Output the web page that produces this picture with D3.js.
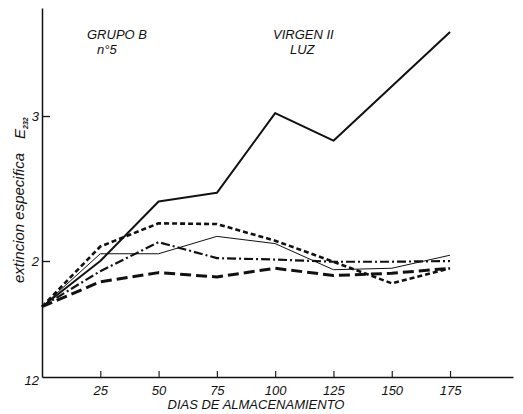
<!DOCTYPE html>
<html>
<head>
<meta charset="utf-8">
<script src="https://cdn.jsdelivr.net/npm/d3@7"></script>
<style>
  body { margin: 0; background: #fff; }
  text { font-family: "Liberation Sans", sans-serif; font-style: italic; fill: #111; }
</style>
</head>
<body>
<div class="chart"></div>
<script>
// days of storage
var dias = [0, 25, 50, 75, 100, 125, 150, 175];

// extincion especifica per series (null = no point read)
var serieGruesa = [1.685, 2.0, 2.41, 2.47, 3.02, 2.83, null, 3.58];
var serieGuiones = [1.685, 2.10, 2.26, 2.255, 2.14, 1.995, 1.846, 1.95];
var serieFina = [1.685, 2.05, 2.05, 2.17, 2.12, 1.94, 1.95, 2.04];
var seriePuntoRaya = [1.685, 1.93, 2.13, 2.02, 2.01, 1.995, 1.995, 2.0];
var serieRayaLarga = [1.685, 1.857, 1.92, 1.89, 1.95, 1.90, 1.915, 1.95];

var xTicks = [25, 50, 75, 100, 125, 150, 175];
var yTicks = [1.2, 2, 3];
var yTickLabels = ["12", "2", "3"];

var svgWidth = 523;
var svgHeight = 414;

var svg = d3.select(".chart")
  .append("svg")
  .attr("width", svgWidth)
  .attr("height", svgHeight);

var xScale = d3.scaleLinear().domain([0, 202]).range([42, 513]);
var yScale = d3.scaleLinear().domain([1.2, 3.745]).range([377, 8]);

// axes
var bottomAxis = d3.axisBottom(xScale)
  .tickValues(xTicks)
  .tickSizeInner(-6)
  .tickSizeOuter(0)
  .tickPadding(9);

var leftAxis = d3.axisLeft(yScale)
  .tickValues(yTicks)
  .tickSizeInner(-8)
  .tickSizeOuter(0)
  .tickPadding(3)
  .tickFormat(function(d, i) { return yTickLabels[i]; });

var gx = svg.append("g")
  .attr("transform", "translate(0," + yScale(1.2) + ")")
  .call(bottomAxis);
gx.select(".domain").attr("stroke", "#111").attr("stroke-width", 1.5);
gx.selectAll(".tick line").attr("stroke", "#222").attr("stroke-width", 1.2);
gx.selectAll(".tick text")
  .attr("font-size", "13px")
  .attr("font-family", "Liberation Sans")
  .attr("font-style", "italic")
  .attr("fill", "#222");

var gy = svg.append("g")
  .attr("transform", "translate(" + xScale(0) + ",0)")
  .call(leftAxis);
gy.select(".domain").attr("stroke", "#111").attr("stroke-width", 1.5);
gy.selectAll(".tick line").attr("stroke", "#111").attr("stroke-width", 1.3)
  .attr("opacity", function(d) { return d === 1.2 ? 0 : 1; });
gy.selectAll(".tick text")
  .attr("font-size", "13px")
  .attr("font-family", "Liberation Sans")
  .attr("font-style", "italic")
  .attr("fill", "#111")
  .attr("dy", function(d) { return d === 1.2 ? "0.55em" : "0.32em"; });

// series lines
var series = [
  { values: serieGruesa, width: 2, dash: null },
  { values: serieGuiones, width: 2.6, dash: "5,3" },
  { values: serieFina, width: 1, dash: null },
  { values: seriePuntoRaya, width: 2.2, dash: "9,3,2,3" },
  { values: serieRayaLarga, width: 3, dash: "11,5" }
];

var line = d3.line()
  .x(function(d) { return xScale(d.dia); })
  .y(function(d) { return yScale(d.v); });

series.forEach(function(s) {
  var pts = dias.map(function(dia, i) { return { dia: dia, v: s.values[i] }; })
    .filter(function(p) { return p.v !== null; });
  svg.append("path")
    .datum(pts)
    .attr("fill", "none")
    .attr("stroke", "#111")
    .attr("stroke-width", s.width)
    .attr("stroke-dasharray", s.dash)
    .attr("stroke-linejoin", "round")
    .attr("d", line);
});

// annotations
svg.append("text").attr("x", 87).attr("y", 39).attr("font-size", "13px").text("GRUPO B");
svg.append("text").attr("x", 97).attr("y", 54).attr("font-size", "13px").text("n°5");
svg.append("text").attr("x", 273).attr("y", 39).attr("font-size", "13px").text("VIRGEN II");
svg.append("text").attr("x", 290).attr("y", 54).attr("font-size", "13px").text("LUZ");

// y axis label
svg.append("text")
  .attr("transform", "translate(24,218) rotate(-90)")
  .attr("text-anchor", "middle")
  .attr("font-size", "15px")
  .text("extincion especifica");

var eLabel = svg.append("text")
  .attr("transform", "translate(25,139) rotate(-90)")
  .attr("font-size", "15px");
eLabel.append("tspan").text("E");
eLabel.append("tspan").attr("font-size", "7px").attr("font-weight", "bold").attr("dy", "3").text("232");

// x axis label
svg.append("text")
  .attr("x", 256)
  .attr("y", 409)
  .attr("text-anchor", "middle")
  .attr("font-size", "13px")
  .text("DIAS DE  ALMACENAMIENTO");
</script>
</body>
</html>
